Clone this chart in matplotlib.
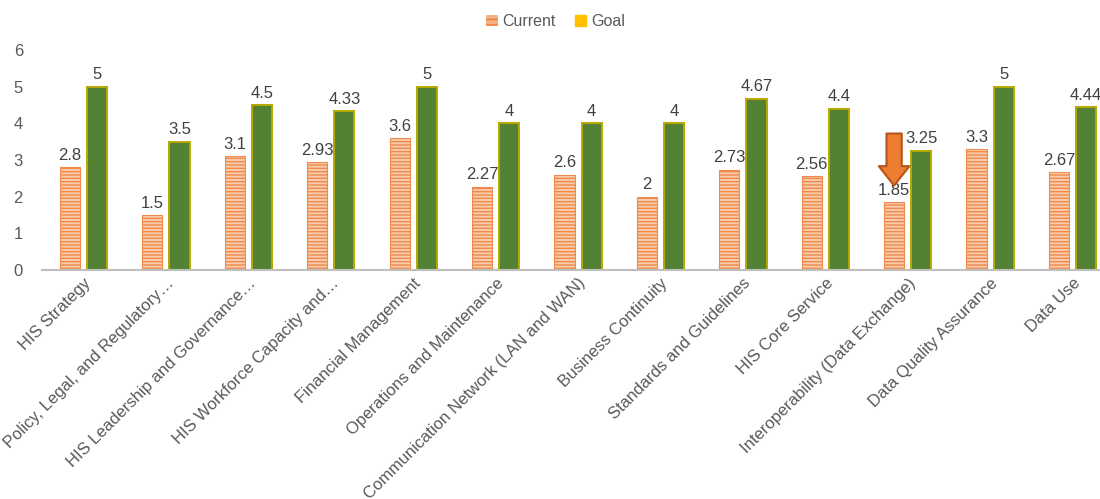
import numpy as np
import matplotlib.pyplot as plt
from matplotlib.patches import Patch

categories = ["HIS Strategy", "Policy, Legal, and Regulatory…",
              "HIS Leadership and Governance…", "HIS Workforce Capacity and…",
              "Financial Management", "Operations and Maintenance",
              "Communication Network (LAN and WAN)", "Business Continuity",
              "Standards and Guidelines", "HIS Core Service",
              "Interoperability (Data Exchange)", "Data Quality Assurance",
              "Data Use"]
current = [2.8, 1.5, 3.1, 2.93, 3.6, 2.27, 2.6, 2, 2.73, 2.56, 1.85, 3.3, 2.67]
goal = [5, 3.5, 4.5, 4.33, 5, 4, 4, 4, 4.67, 4.4, 3.25, 5, 4.44]
current_labels = ["2.8", "1.5", "3.1", "2.93", "3.6", "2.27", "2.6", "2",
                  "2.73", "2.56", "1.85", "3.3", "2.67"]
goal_labels = ["5", "3.5", "4.5", "4.33", "5", "4", "4", "4", "4.67", "4.4",
               "3.25", "5", "4.44"]
arrow_idx = 10

plt.rcParams['font.family'] = ['Liberation Sans', 'DejaVu Sans']
plt.rcParams['hatch.linewidth'] = 1.0

fig = plt.figure(figsize=(11, 4.99), dpi=100)
# the plot area runs a bit past the right edge, as in the original
ax = fig.add_axes([0.0385, 0.459, 0.974, 0.441])

x = np.arange(len(categories))
w = 0.245
off = 0.165

ax.bar(x - off, current, w, color='#F8CBAD', edgecolor='#F08B4C',
       hatch='-----', linewidth=0.8)
ax.bar(x + off, goal, w, color='#548235', edgecolor='#B8A800', linewidth=1.4)

for i in range(len(categories)):
    ax.text(x[i] - off, current[i] + 0.12, current_labels[i], ha='center',
            va='bottom', fontsize=12, color='#404040')
    ax.text(x[i] + off, goal[i] + 0.12, goal_labels[i], ha='center',
            va='bottom', fontsize=12, color='#404040')

# arrow marking the weakest area
ax.annotate('', xy=(x[arrow_idx] - off, 2.3), xytext=(x[arrow_idx] - off, 3.72),
            arrowprops=dict(arrowstyle='simple,head_width=2.2,head_length=1.4,tail_width=1.1',
                            fc='#ED7D31', ec='#B5541A', lw=1.5,
                            shrinkA=0, shrinkB=0))

ax.set_xlim(-0.5, len(categories) - 0.5)
ax.set_ylim(0, 6)
ax.set_yticks(range(7))
ax.set_xticks(x)
ax.set_xticklabels(categories, rotation=45, ha='right', rotation_mode='anchor',
                   fontsize=12, color='#595959')
ax.tick_params(axis='y', length=0, labelsize=12, labelcolor='#595959', pad=14)
ax.tick_params(axis='x', length=0, pad=4)
for s in ['top', 'right', 'left']:
    ax.spines[s].set_visible(False)
ax.spines['bottom'].set_color('#BFBFBF')
ax.spines['bottom'].set_linewidth(1.5)

handles = [Patch(facecolor='#F4B183', edgecolor='#ED7D31', hatch='---', lw=0),
           Patch(facecolor='#FFC000', edgecolor='#FFC000')]
fig.legend(handles, ['Current', 'Goal'], loc='upper center',
           bbox_to_anchor=(0.505, 1.0), ncol=2, frameon=False, fontsize=11.5,
           handlelength=0.7, handleheight=0.7, handletextpad=0.3,
           columnspacing=1.2, labelcolor='#595959')

fig.savefig('out.png')
